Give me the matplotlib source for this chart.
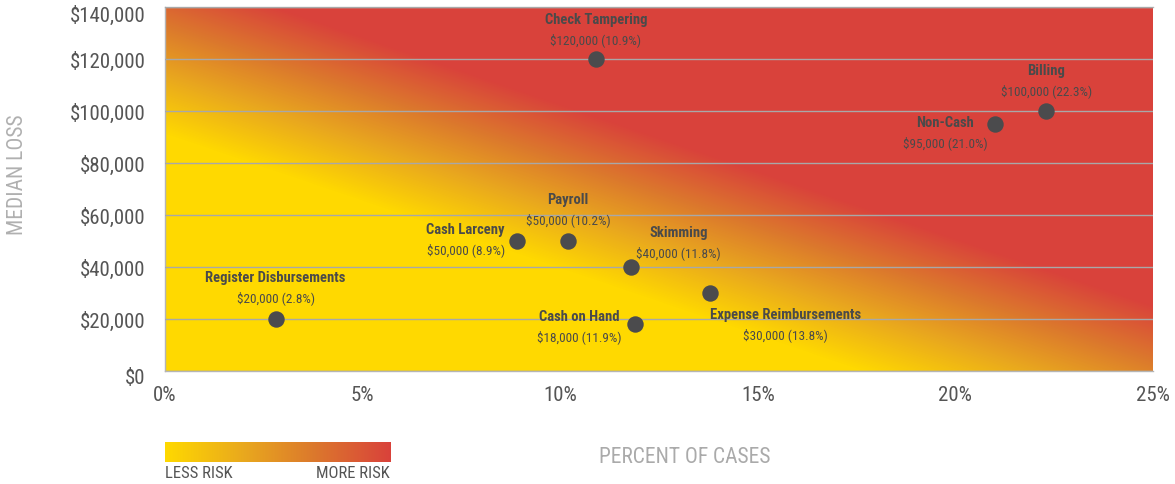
import numpy as np
import matplotlib
matplotlib.use("Agg")
import matplotlib.pyplot as plt
from matplotlib.colors import LinearSegmentedColormap
from matplotlib.ticker import FuncFormatter
from matplotlib.transforms import ScaledTranslation

## Data
schemes = [
    "Check Tampering",
    "Billing",
    "Non-Cash",
    "Payroll",
    "Cash Larceny",
    "Skimming",
    "Register Disbursements",
    "Cash on Hand",
    "Expense Reimbursements",
]
percent_cases = [10.9, 22.3, 21.0, 10.2, 8.9, 11.8, 2.8, 11.9, 13.8]
median_loss = [120000, 100000, 95000, 50000, 50000, 40000, 20000, 18000, 30000]

x_ticks = [0, 5, 10, 15, 20, 25]
y_ticks = [0, 20000, 40000, 60000, 80000, 100000, 120000, 140000]

# label offsets (pixels) for the name line, value line sits below it
label_offsets = [
    (0, 40), (0, 41), (-50, 2), (0, 42), (-51, 12),
    (47, 35), (0, 42), (-56, 8), (75, -21),
]

FONT = ["Liberation Sans Narrow", "Roboto Condensed", "DejaVu Sans"]
plt.rcParams["font.family"] = FONT

risk_cmap = LinearSegmentedColormap.from_list(
    "risk",
    [(0.0, "#FFD900"), (0.35, "#E9A81E"), (0.65, "#DC7A2C"), (1.0, "#D9423B")],
)

fig = plt.figure(figsize=(11.75, 4.85), dpi=100)
ax = fig.add_axes([165 / 1175, 1 - 372 / 485, 988 / 1175, 364 / 485])

# diagonal risk gradient, computed on a pixel grid of the plot area
px = np.arange(988) + 165
py = np.arange(364) + 8
PX, PY = np.meshgrid(px, py)
base = 135 + 0.34 * (PX - 165)
v = np.clip((base - PY) / 165.0, 0, 1)
ax.imshow(v, cmap=risk_cmap, vmin=0, vmax=1, aspect="auto",
          extent=[0, 25, 0, 140000], origin="upper", zorder=0)

ax.set_xlim(0, 25)
ax.set_ylim(0, 140000)
ax.set_xticks(x_ticks)
ax.set_yticks(y_ticks)
ax.xaxis.set_major_formatter(FuncFormatter(lambda x, _: f"{x:.0f}%"))
ax.yaxis.set_major_formatter(FuncFormatter(lambda y, _: f"${y:,.0f}"))
ax.tick_params(length=0, labelsize=15, colors="#555555")
ax.tick_params(axis="x", pad=10)
ax.tick_params(axis="y", pad=14)
# the end labels sit a little inside the plot area, as in the original
ylabels = ax.get_yticklabels()
for lbl, dy in ((ylabels[0], -4), (ylabels[-1], -6)):
    lbl.set_transform(lbl.get_transform()
                      + ScaledTranslation(0, dy / 100, fig.dpi_scale_trans))

ax.grid(axis="y", color="#A8A8A8", linewidth=1)
ax.set_axisbelow(False)
for s in ax.spines.values():
    s.set_color("#B5B5B5")
    s.set_linewidth(1)
ax.spines["right"].set_visible(False)

ax.scatter(percent_cases, median_loss, s=140, color="#4B4B4D", zorder=5,
           linewidths=0)

for name, xv, yv, (dx, dy) in zip(schemes, percent_cases, median_loss, label_offsets):
    ax.annotate(name, (xv, yv), xytext=(dx, dy), textcoords="offset pixels",
                ha="center", va="center", fontsize=10.5, fontweight="bold",
                color="#4A4A4A", zorder=6)
    ax.annotate(f"${yv:,.0f} ({xv:.1f}%)", (xv, yv), xytext=(dx, dy - 20),
                textcoords="offset pixels", ha="center", va="center",
                fontsize=9.5, color="#4A4A4A", zorder=6)

fig.text(18 / 1175, 1 - 175 / 485, "MEDIAN LOSS", rotation=90, ha="center",
         va="center", fontsize=15.5, color="#B0B0B0")
fig.text(685 / 1175, 1 - 458 / 485, "PERCENT OF CASES", ha="center",
         va="center", fontsize=15.5, color="#AAAAAA")

# legend bar
lax = fig.add_axes([165 / 1175, 1 - 463 / 485, 225 / 1175, 20 / 485])
lax.imshow(np.linspace(0, 1, 256)[None, :], cmap=risk_cmap, aspect="auto")
lax.axis("off")
fig.text(165 / 1175, 1 - 474 / 485, "LESS RISK", ha="left", va="center",
         fontsize=12, color="#555555")
fig.text(390 / 1175, 1 - 474 / 485, "MORE RISK", ha="right", va="center",
         fontsize=12, color="#555555")

fig.savefig("out.png", dpi=100)
